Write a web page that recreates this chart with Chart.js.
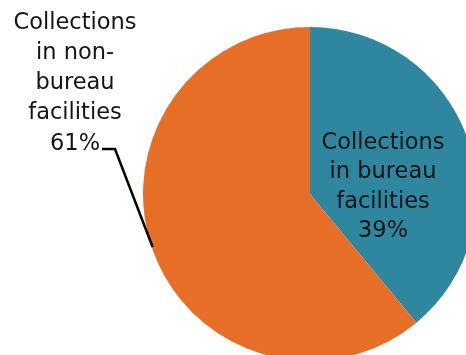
<!DOCTYPE html>
<html>
<head>
<meta charset="utf-8">
<script src="https://cdn.jsdelivr.net/npm/chart.js@4/dist/chart.umd.min.js"></script>
<style>
  html, body { margin: 0; padding: 0; background: #fff; overflow: hidden; }
  #wrap { width: 466px; height: 355px; overflow: hidden; position: relative; }
  canvas { position: absolute; left: 0; top: 0; }
</style>
</head>
<body>
<div id="wrap"><canvas id="pie" width="480" height="370"></canvas></div>
<script>
const categories = ['Collections in bureau facilities', 'Collections in non-bureau facilities'];
const shares = [39, 61];
const sliceColors = ['#2e879f', '#e66e27'];

// label lines as they appear in the picture
const bureauLines = ['Collections', 'in bureau', 'facilities', shares[0] + '%'];
const nonBureauLines = ['Collections', 'in non-', 'bureau', 'facilities', shares[1] + '%'];

const labelPlugin = {
  id: 'sliceLabels',
  afterDraw(chart) {
    const ctx = chart.ctx;
    const arc = chart.getDatasetMeta(0).data[0];
    const cx = arc.x, cy = arc.y, r = arc.outerRadius;
    ctx.save();
    ctx.fillStyle = '#141414';
    ctx.font = '22.5px "DejaVu Sans", sans-serif';
    ctx.textAlign = 'center';
    ctx.textBaseline = 'middle';
    bureauLines.forEach((t, i) => ctx.fillText(t, cx + 73, cy - 51 + i * 29.5));
    nonBureauLines.forEach((t, i) => ctx.fillText(t, 75, 23 + i * 30.2));
    // leader line from the 61% label to the slice edge
    const a = Math.PI * 161.5 / 180;
    ctx.strokeStyle = '#000';
    ctx.lineWidth = 2.5;
    ctx.beginPath();
    ctx.moveTo(102, 149);
    ctx.lineTo(115, 149);
    ctx.lineTo(cx + r * Math.cos(a) + 1, cy + r * Math.sin(a));
    ctx.stroke();
    ctx.restore();
  }
};

new Chart(document.getElementById('pie'), {
  type: 'pie',
  data: {
    labels: categories,
    datasets: [{
      data: shares,
      backgroundColor: sliceColors,
      borderWidth: 0
    }]
  },
  options: {
    responsive: false,
    animation: false,
    layout: { padding: { left: 143, top: 27, right: 3, bottom: 9 } },
    plugins: {
      legend: { display: false },
      tooltip: { enabled: false }
    }
  },
  plugins: [labelPlugin]
});
</script>
</body>
</html>
